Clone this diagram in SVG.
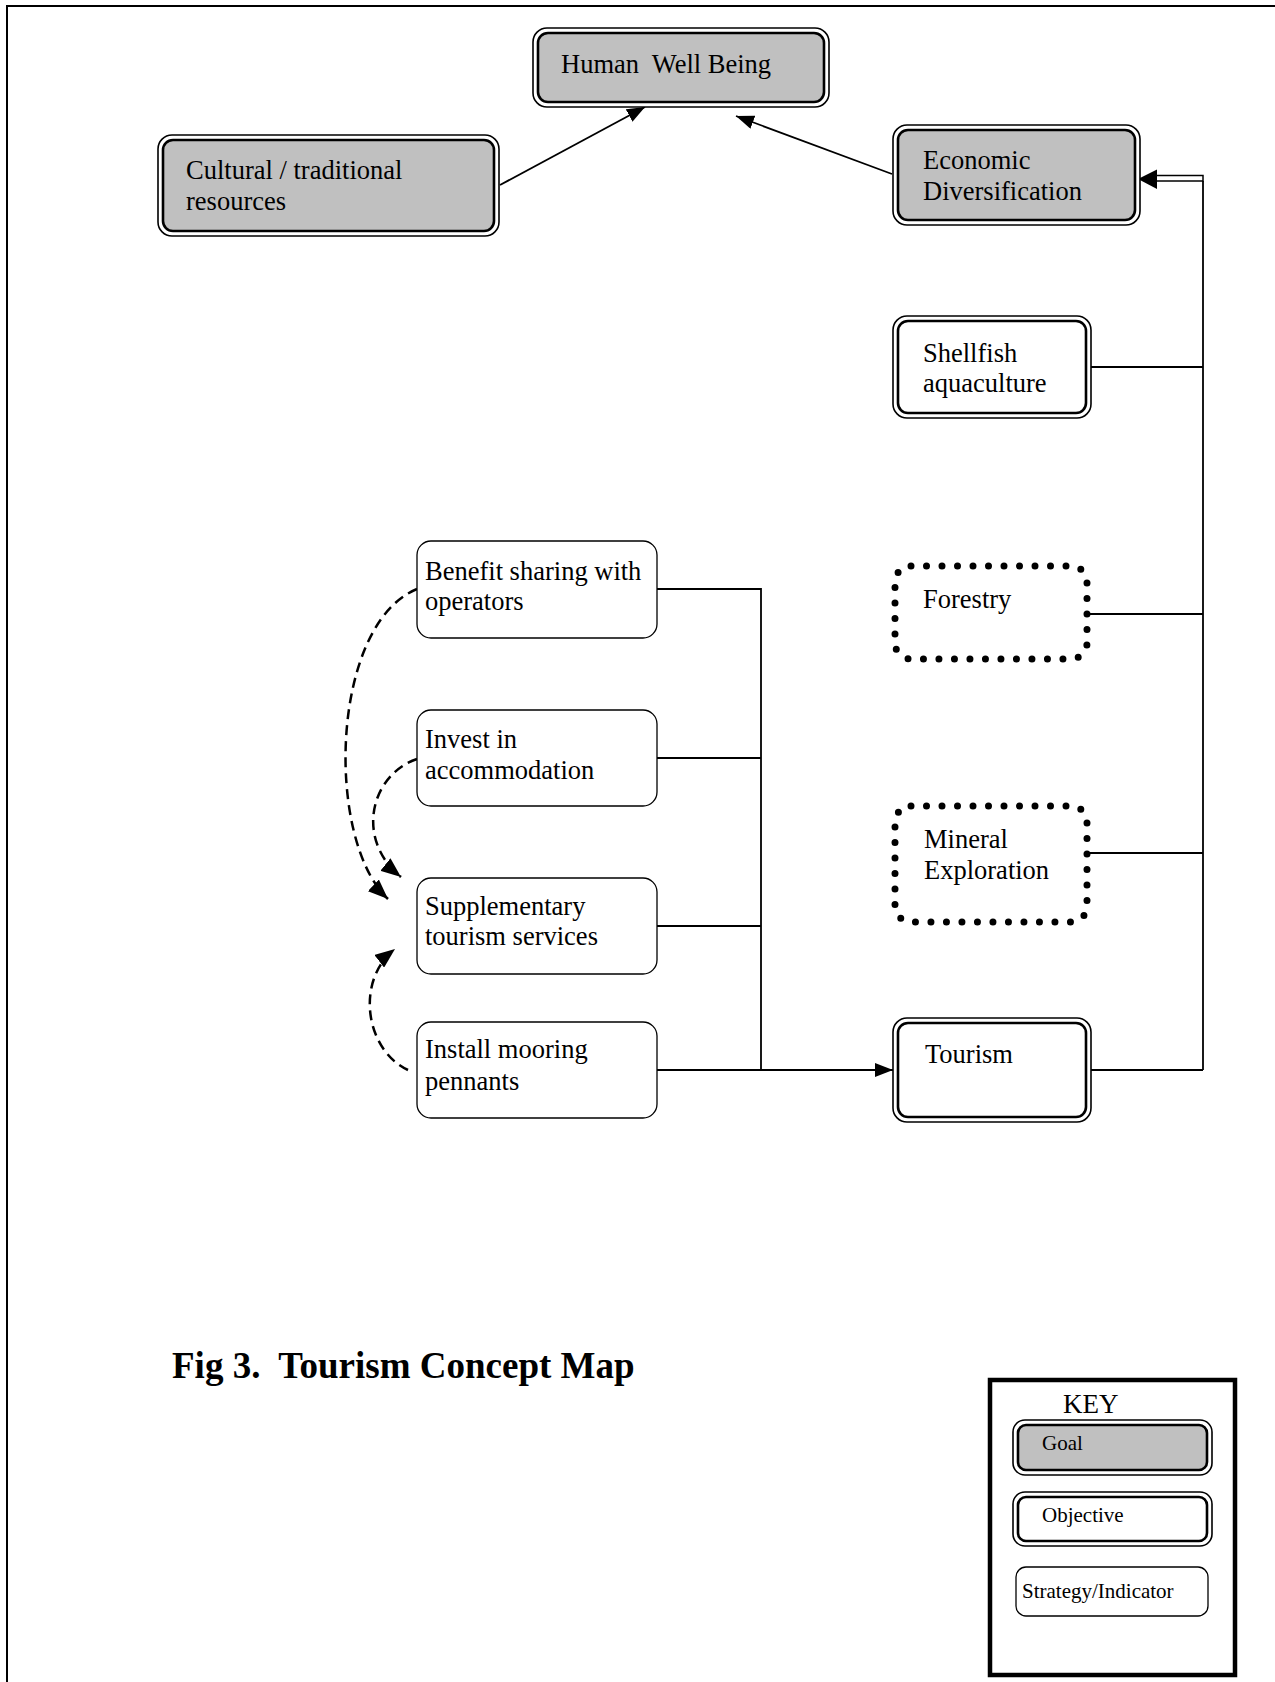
<svg xmlns="http://www.w3.org/2000/svg" width="1275" height="1682" viewBox="0 0 1275 1682">
<defs>
<style>
text{font-family:"Liberation Serif","Times New Roman",serif;fill:#000;white-space:pre}
.t{font-size:26.5px}
.k{font-size:21px}
.o{fill:#fff;stroke:#000;stroke-width:1.6}
.ig{fill:#c0c0c0;stroke:#000;stroke-width:2.6}
.iw{fill:#fff;stroke:#000;stroke-width:2.6}
.s{fill:#fff;stroke:#000;stroke-width:1.3}
.d{fill:#fff;stroke:#000;stroke-width:7;stroke-linecap:round;stroke-dasharray:0 15.5}
.c{fill:none;stroke:#000;stroke-width:1.8}
.dash{fill:none;stroke:#000;stroke-width:2.5;stroke-dasharray:10 6}
</style>
<marker id="ah" viewBox="0 0 18 14" refX="18" refY="7" markerWidth="18" markerHeight="14" markerUnits="userSpaceOnUse" orient="auto">
<path d="M0,0 L18,7 L0,14 Z" fill="#000"/>
</marker>
<marker id="ahd" viewBox="0 0 20 16" refX="20" refY="8" markerWidth="20" markerHeight="16" markerUnits="userSpaceOnUse" orient="auto">
<path d="M0,0 L20,8 L0,16 Z" fill="#000"/>
</marker>
</defs>
<rect width="1275" height="1682" fill="#fff"/>
<path d="M7,1682 V6 H1275" fill="none" stroke="#000" stroke-width="2"/>

<g id="connectors">
<line class="c" x1="500" y1="185" x2="645" y2="107" marker-end="url(#ah)"/>
<line class="c" x1="892" y1="174" x2="736" y2="116" marker-end="url(#ah)"/>
<path class="c" d="M1203,1070 V181"/>
<rect x="1150" y="175.5" width="53" height="5.5" fill="#fff" stroke="#000" stroke-width="1.5"/>
<polygon points="1138,179 1157,169.5 1157,189" fill="#000"/>
<path class="c" d="M1091,367 H1203 M1087,614 H1203 M1087,853 H1203 M1091,1070 H1203"/>
<path class="c" d="M657,589 H761 V1070 M657,758 H761 M657,926 H761"/>
<line class="c" x1="657" y1="1070" x2="893" y2="1070" marker-end="url(#ah)"/>
<path class="dash" d="M417,589 C330,625 325,840 388,899" marker-end="url(#ahd)"/>
<path class="dash" d="M417,759 C370,775 355,840 401,877" marker-end="url(#ahd)"/>
<path class="dash" d="M408,1070 C365,1050 355,980 395,949" marker-end="url(#ahd)"/>
</g>

<g id="human">
<rect class="o" x="533" y="28" width="296" height="79" rx="14"/>
<rect class="ig" x="538" y="33" width="286" height="69" rx="10"/>
<text class="t" x="561" y="73">Human  Well Being</text>
</g>
<g id="cultural">
<rect class="o" x="158" y="135" width="341" height="101" rx="14"/>
<rect class="ig" x="163" y="140" width="331" height="91" rx="10"/>
<text class="t" x="186" y="179">Cultural / traditional</text>
<text class="t" x="186" y="210">resources</text>
</g>
<g id="economic">
<rect class="o" x="893" y="125" width="247" height="100" rx="14"/>
<rect class="ig" x="898" y="130" width="237" height="90" rx="10"/>
<text class="t" x="923" y="169">Economic</text>
<text class="t" x="923" y="200">Diversification</text>
</g>
<g id="shellfish">
<rect class="o" x="893" y="316" width="198" height="102" rx="14"/>
<rect class="iw" x="898" y="321" width="188" height="92" rx="10"/>
<text class="t" x="923" y="362">Shellfish</text>
<text class="t" x="923" y="392">aquaculture</text>
</g>
<g id="forestry">
<rect class="d" x="895" y="566" width="192" height="93" rx="16"/>
<text class="t" x="923" y="608">Forestry</text>
</g>
<g id="mineral">
<rect class="d" x="895" y="806" width="192" height="116" rx="16"/>
<text class="t" x="924" y="848">Mineral</text>
<text class="t" x="924" y="879">Exploration</text>
</g>
<g id="tourism">
<rect class="o" x="893" y="1018" width="198" height="104" rx="14"/>
<rect class="iw" x="898" y="1023" width="188" height="94" rx="10"/>
<text class="t" x="925" y="1063">Tourism</text>
</g>
<g id="benefit">
<rect class="s" x="417" y="541" width="240" height="97" rx="14"/>
<text class="t" x="425" y="580">Benefit sharing with</text>
<text class="t" x="425" y="610">operators</text>
</g>
<g id="invest">
<rect class="s" x="417" y="710" width="240" height="96" rx="14"/>
<text class="t" x="425" y="748">Invest in</text>
<text class="t" x="425" y="779">accommodation</text>
</g>
<g id="supplementary">
<rect class="s" x="417" y="878" width="240" height="96" rx="14"/>
<text class="t" x="425" y="915">Supplementary</text>
<text class="t" x="425" y="945">tourism services</text>
</g>
<g id="install">
<rect class="s" x="417" y="1022" width="240" height="96" rx="14"/>
<text class="t" x="425" y="1058">Install mooring</text>
<text class="t" x="425" y="1090">pennants</text>
</g>

<text id="title" x="172" y="1378" style="font-size:37px;font-weight:bold">Fig 3.  Tourism Concept Map</text>

<g id="key">
<rect x="990" y="1380" width="245" height="295" fill="#fff" stroke="#000" stroke-width="4.5"/>
<text x="1063" y="1413" style="font-size:27px">KEY</text>
<g id="key-goal">
<rect class="o" x="1013" y="1420" width="199" height="55" rx="12"/>
<rect class="ig" x="1018" y="1425" width="189" height="45" rx="8"/>
<text class="k" x="1042" y="1450">Goal</text>
</g>
<g id="key-objective">
<rect class="o" x="1013" y="1492" width="199" height="54" rx="12"/>
<rect class="iw" x="1018" y="1497" width="189" height="44" rx="8"/>
<text class="k" x="1042" y="1522">Objective</text>
</g>
<g id="key-strategy">
<rect class="s" x="1016" y="1567" width="192" height="49" rx="10"/>
<text class="k" x="1022" y="1598">Strategy/Indicator</text>
</g>
</g>
</svg>
